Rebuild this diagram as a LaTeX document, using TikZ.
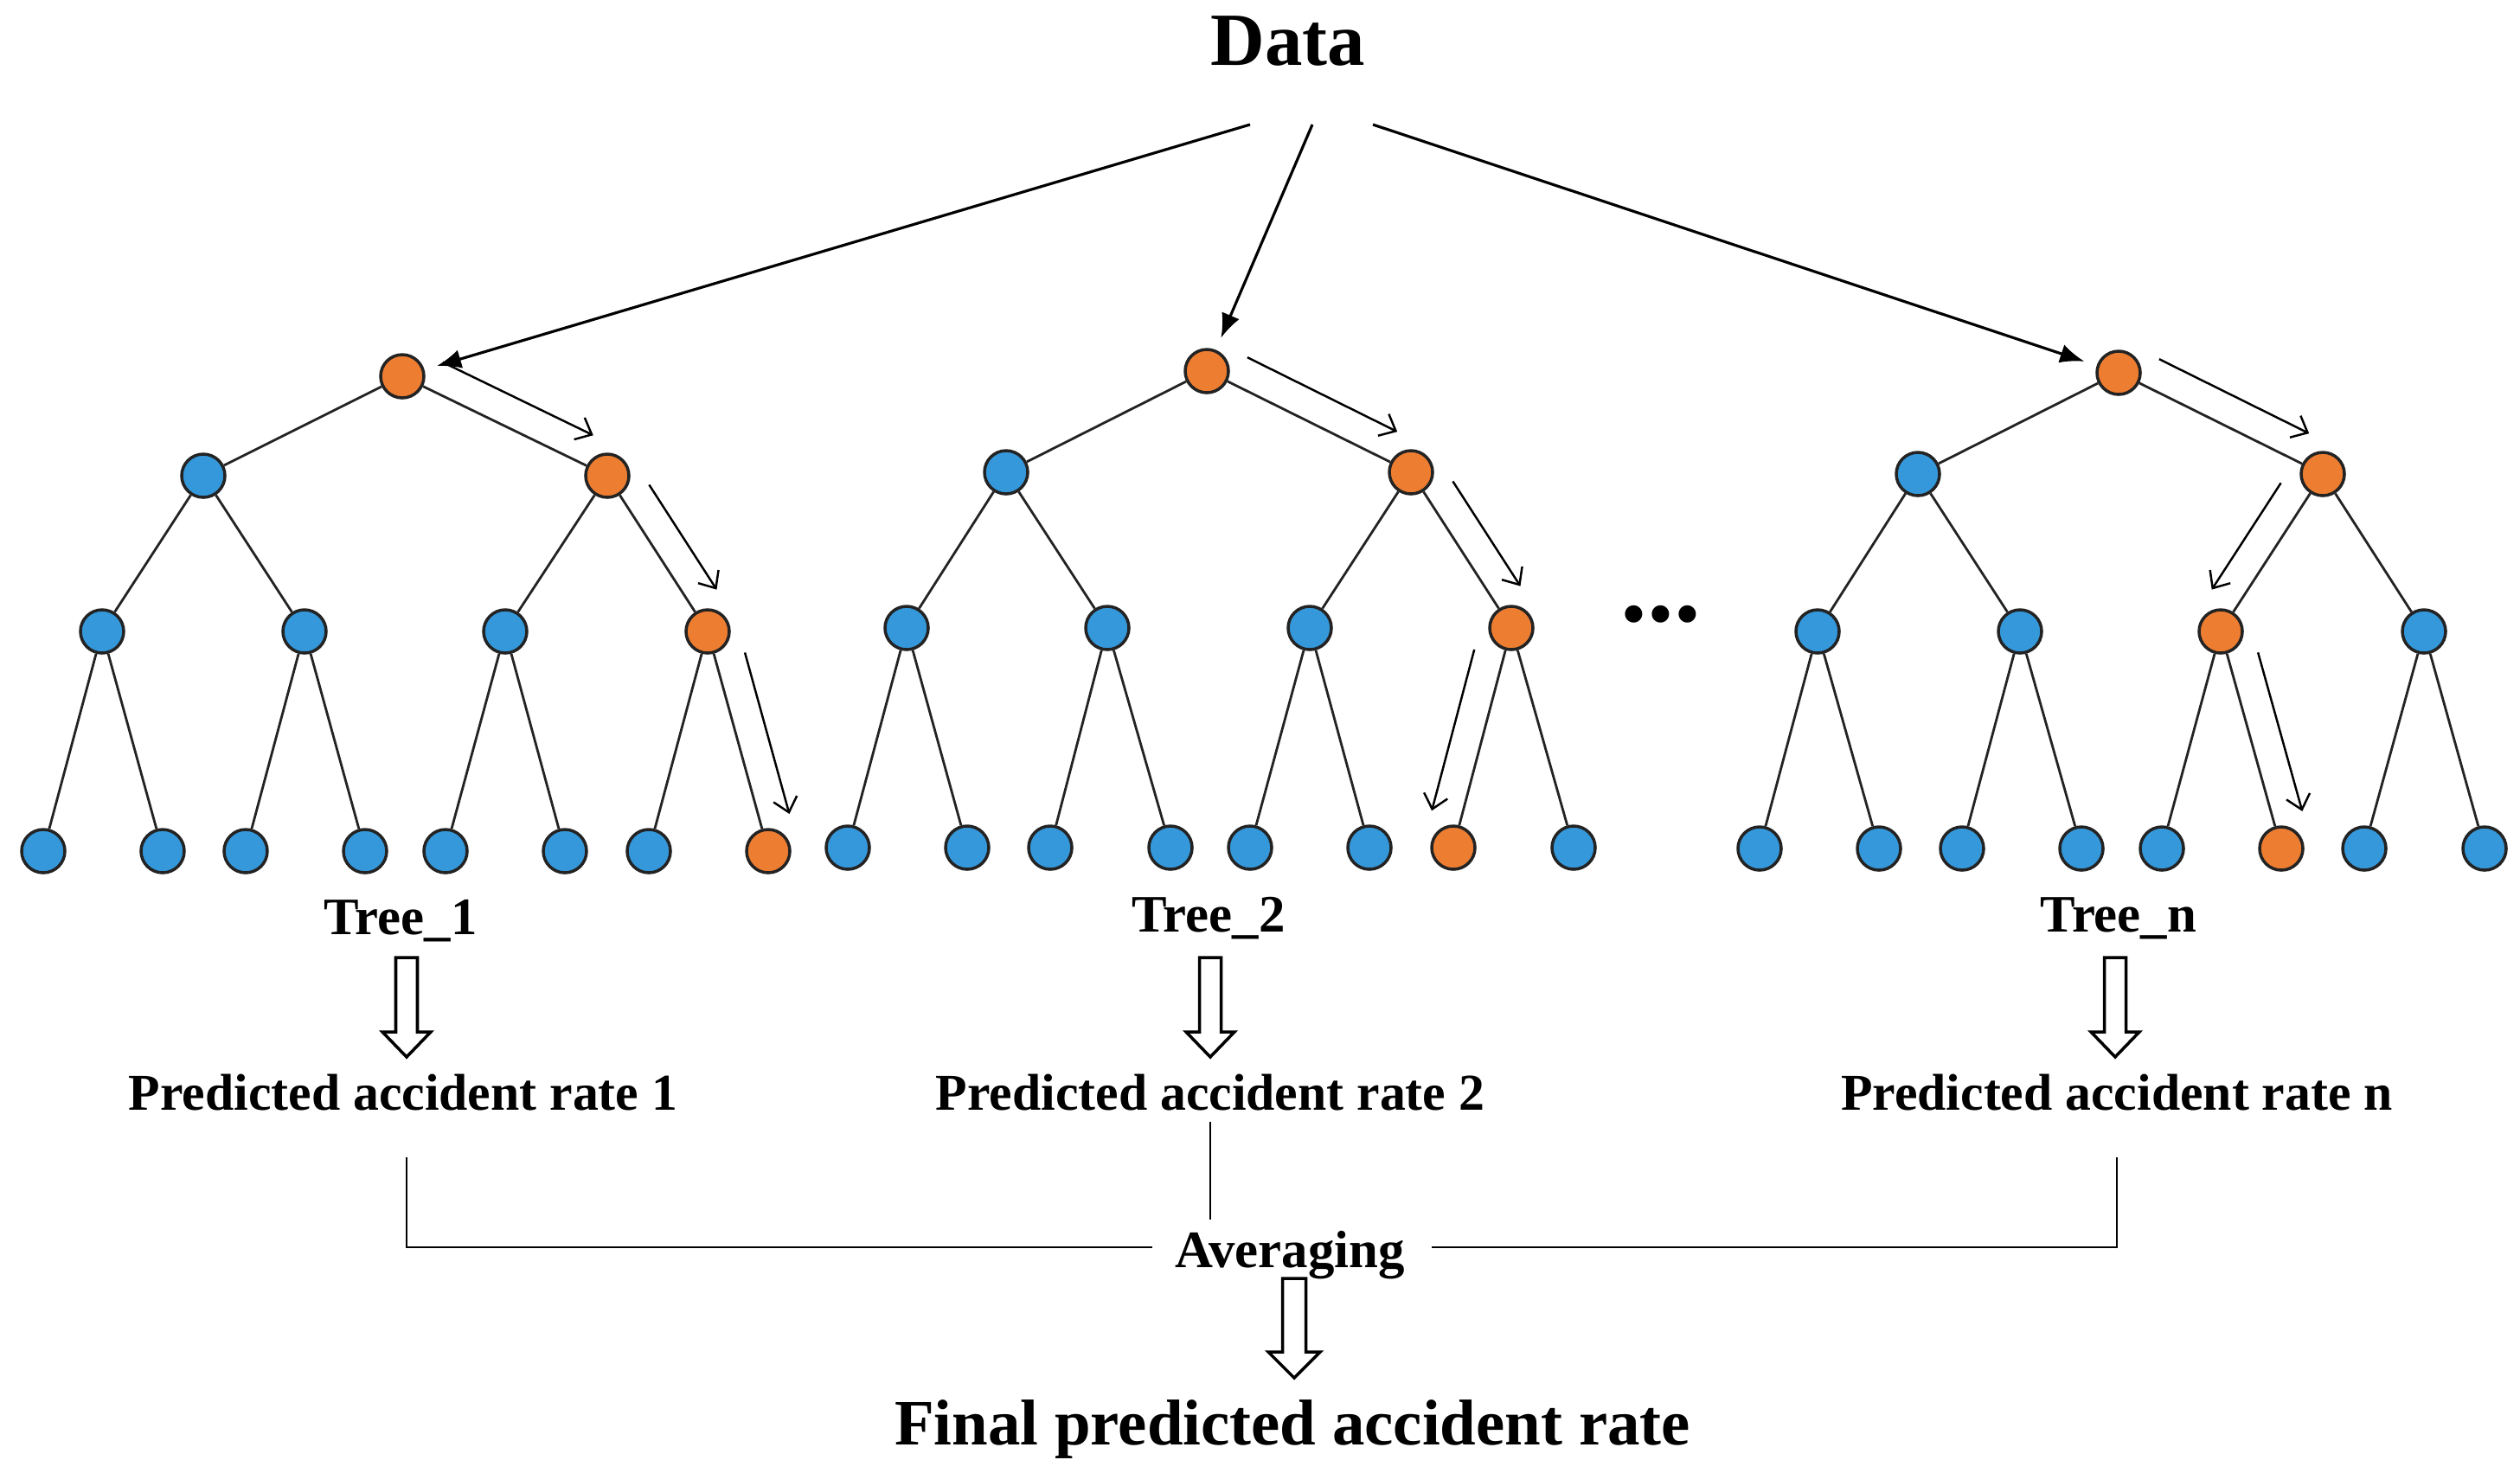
\documentclass[tikz,border=0pt]{standalone}
\usepackage{fontspec}
\setmainfont{Liberation Serif}
\usepackage{xcolor}
\usepackage{tikz}
\usetikzlibrary{arrows.meta}
\usetikzlibrary{calc}

\definecolor{splitblue}{RGB}{52,152,219}
\definecolor{pathorange}{RGB}{237,125,49}
\definecolor{rim}{RGB}{35,35,35}

\begin{document}
\begin{tikzpicture}[line width=0.8pt,
	label/.style={anchor=base,font=\fontsize{17.3}{20}\selectfont\bfseries},
	result/.style={anchor=base,font=\fontsize{17}{20}\selectfont\bfseries},
	feed/.style={line width=0.9pt,-{Latex[length=2.8mm,width=2.2mm]},shorten >=0.15cm},
	walk/.style={line width=0.7pt,-{Straight Barb[length=1.6mm,width=2.8mm]},shorten <=0.35cm,shorten >=0.35cm},
	hollow/.style={line width=1pt,fill=white}]
	\useasboundingbox (0,0) rectangle (29.13,-17.02);
	% texts
	\node[anchor=base,font=\fontsize{24.7}{28}\selectfont\bfseries] (data) at (14.89,-0.75) {Data};
	\node[label] (tree1) at (4.63,-10.80) {Tree\_1};
	\node[label] (tree2) at (13.97,-10.77) {Tree\_2};
	\node[label] (treen) at (24.49,-10.77) {Tree\_n};
	\node[result] (pred1) at (4.66,-12.83) {Predicted accident rate 1};
	\node[result] (pred2) at (13.99,-12.83) {Predicted accident rate 2};
	\node[result] (predn) at (24.47,-12.83) {Predicted accident rate n};
	\node[label] (avg) at (14.91,-14.65) {Averaging};
	\node[anchor=base,font=\fontsize{21.3}{25}\selectfont\bfseries] (final) at (14.94,-16.70) {Final predicted accident rate};
	\node[anchor=base,font=\fontsize{35}{40}\selectfont\bfseries] (dots) at (19.20,-7.18) {...};
	% tree 1
	\tikzstyle{every node}=[draw=rim,shape=circle,inner sep=0pt,minimum size=0.5cm,line width=1pt,fill=splitblue];
	\node (a1) at (2.35,-5.50) {};
	\node (a3) at (1.18,-7.30) {};
	\node (a4) at (3.52,-7.30) {};
	\node (a5) at (5.84,-7.30) {};
	\node (a7) at (0.50,-9.84) {};
	\node (a8) at (1.88,-9.84) {};
	\node (a9) at (2.84,-9.84) {};
	\node (a10) at (4.22,-9.84) {};
	\node (a11) at (5.15,-9.84) {};
	\node (a12) at (6.53,-9.84) {};
	\node (a13) at (7.50,-9.84) {};
	\tikzstyle{every node}=[draw=rim,shape=circle,inner sep=0pt,minimum size=0.5cm,line width=1pt,fill=pathorange];
	\node (a0) at (4.65,-4.35) {};
	\node (a2) at (7.02,-5.50) {};
	\node (a6) at (8.18,-7.30) {};
	\node (a14) at (8.88,-9.84) {};
	% tree 2
	\tikzstyle{every node}=[draw=rim,shape=circle,inner sep=0pt,minimum size=0.5cm,line width=1pt,fill=splitblue];
	\node (b1) at (11.63,-5.46) {};
	\node (b3) at (10.48,-7.26) {};
	\node (b4) at (12.80,-7.26) {};
	\node (b5) at (15.14,-7.26) {};
	\node (b7) at (9.80,-9.80) {};
	\node (b8) at (11.18,-9.80) {};
	\node (b9) at (12.14,-9.80) {};
	\node (b10) at (13.53,-9.80) {};
	\node (b11) at (14.45,-9.80) {};
	\node (b12) at (15.83,-9.80) {};
	\node (b14) at (18.19,-9.80) {};
	\tikzstyle{every node}=[draw=rim,shape=circle,inner sep=0pt,minimum size=0.5cm,line width=1pt,fill=pathorange];
	\node (b0) at (13.95,-4.29) {};
	\node (b2) at (16.31,-5.46) {};
	\node (b6) at (17.47,-7.26) {};
	\node (b13) at (16.80,-9.80) {};
	% tree n
	\tikzstyle{every node}=[draw=rim,shape=circle,inner sep=0pt,minimum size=0.5cm,line width=1pt,fill=splitblue];
	\node (c1) at (22.17,-5.48) {};
	\node (c3) at (21.01,-7.30) {};
	\node (c4) at (23.35,-7.30) {};
	\node (c6) at (28.02,-7.30) {};
	\node (c7) at (20.34,-9.81) {};
	\node (c8) at (21.72,-9.81) {};
	\node (c9) at (22.68,-9.81) {};
	\node (c10) at (24.06,-9.81) {};
	\node (c11) at (24.99,-9.81) {};
	\node (c13) at (27.33,-9.81) {};
	\node (c14) at (28.72,-9.81) {};
	\tikzstyle{every node}=[draw=rim,shape=circle,inner sep=0pt,minimum size=0.5cm,line width=1pt,fill=pathorange];
	\node (c0) at (24.49,-4.31) {};
	\node (c2) at (26.85,-5.48) {};
	\node (c5) at (25.67,-7.30) {};
	\node (c12) at (26.37,-9.81) {};
	% branches
	\draw[rim] (a0)--(a1) (a0)--(a2) (a1)--(a3) (a1)--(a4) (a2)--(a5) (a2)--(a6)
			(a3)--(a7) (a3)--(a8) (a4)--(a9) (a4)--(a10) (a5)--(a11) (a5)--(a12) (a6)--(a13) (a6)--(a14);
	\draw[rim] (b0)--(b1) (b0)--(b2) (b1)--(b3) (b1)--(b4) (b2)--(b5) (b2)--(b6)
			(b3)--(b7) (b3)--(b8) (b4)--(b9) (b4)--(b10) (b5)--(b11) (b5)--(b12) (b6)--(b13) (b6)--(b14);
	\draw[rim] (c0)--(c1) (c0)--(c2) (c1)--(c3) (c1)--(c4) (c2)--(c5) (c2)--(c6)
			(c3)--(c7) (c3)--(c8) (c4)--(c9) (c4)--(c10) (c5)--(c11) (c5)--(c12) (c6)--(c13) (c6)--(c14);
	% data to the roots
	\coordinate (d1) at (14.45,-1.44);
	\coordinate (d2) at (15.17,-1.44);
	\coordinate (d3) at (15.87,-1.44);
	\draw[feed] (d1) -- (a0);
	\draw[feed] (d2) -- (b0);
	\draw[feed] (d3) -- (c0);
	% decision paths
	\draw[walk] ($(a0)!.35cm!90:(a2)$) -- ($(a2)!-.35cm!90:(a0)$);
	\draw[walk] ($(a2)!.35cm!90:(a6)$) -- ($(a6)!-.35cm!90:(a2)$);
	\draw[walk] ($(a6)!.35cm!90:(a14)$) -- ($(a14)!-.35cm!90:(a6)$);
	\draw[walk] ($(b0)!.35cm!90:(b2)$) -- ($(b2)!-.35cm!90:(b0)$);
	\draw[walk] ($(b2)!.35cm!90:(b6)$) -- ($(b6)!-.35cm!90:(b2)$);
	\draw[walk] ($(b6)!.35cm!-90:(b13)$) -- ($(b13)!-.35cm!-90:(b6)$);
	\draw[walk] ($(c0)!.35cm!90:(c2)$) -- ($(c2)!-.35cm!90:(c0)$);
	\draw[walk] ($(c2)!.35cm!-90:(c5)$) -- ($(c5)!-.35cm!-90:(c2)$);
	\draw[walk] ($(c5)!.35cm!90:(c12)$) -- ($(c12)!-.35cm!90:(c5)$);
	% tree to prediction
	\coordinate (h1) at (4.70,-11.07);
	\coordinate (h2) at (13.99,-11.07);
	\coordinate (hn) at (24.45,-11.07);
	\coordinate (hf) at (14.96,-14.78);
	\draw[hollow,shift={(h1)}] (-.125,0) -- (-.125,-.86) -- (-.28,-.86) -- (0,-1.15) -- (.28,-.86) -- (.125,-.86) -- (.125,0) -- cycle;
	\draw[hollow,shift={(h2)}] (-.125,0) -- (-.125,-.86) -- (-.28,-.86) -- (0,-1.15) -- (.28,-.86) -- (.125,-.86) -- (.125,0) -- cycle;
	\draw[hollow,shift={(hn)}] (-.125,0) -- (-.125,-.86) -- (-.28,-.86) -- (0,-1.15) -- (.28,-.86) -- (.125,-.86) -- (.125,0) -- cycle;
	\draw[hollow,shift={(hf)}] (-.135,0) -- (-.135,-.85) -- (-.30,-.85) -- (0,-1.15) -- (.30,-.85) -- (.135,-.85) -- (.135,0) -- cycle;
	% averaging
	\coordinate (k1) at (4.70,-13.38);
	\coordinate (k2) at (13.32,-14.42);
	\coordinate (k3) at (24.47,-13.38);
	\coordinate (k4) at (16.55,-14.42);
	\draw (k1) |- (k2);
	\draw (k3) |- (k4);
	\draw (pred2.south) -- (pred2.south |- avg.north);
\end{tikzpicture}
\end{document}
